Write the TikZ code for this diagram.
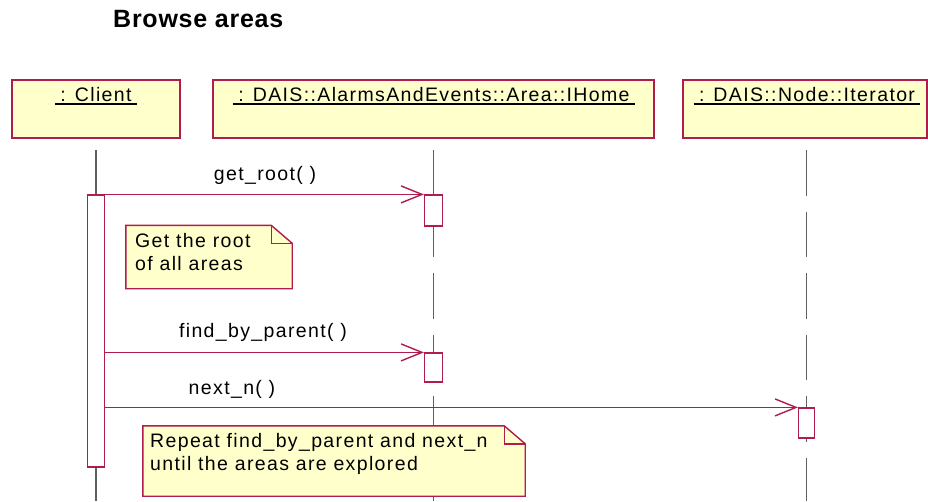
\documentclass[tikz,border=0pt]{standalone}
\usepackage{fontspec}
\setmainfont{Liberation Sans}
\newfontfamily\spcfont[LetterSpace=7]{Liberation Sans}
\newfontfamily\ttlfont[LetterSpace=3]{Liberation Sans}
\usetikzlibrary{arrows.meta}
\definecolor{umlred}{RGB}{176,28,78}
\definecolor{umlfill}{RGB}{255,255,204}
\definecolor{lifegray}{RGB}{95,95,95}
\begin{document}
\begin{tikzpicture}[x=1pt,y=-1pt,
  hdrbox/.style={draw=umlred, fill=umlfill, line width=1.4pt, inner sep=0pt},
  hdrtxt/.style={inner xsep=5pt, inner ysep=0pt, anchor=base, font=\spcfont\fontsize{19.5}{23}\selectfont},
  lifeline/.style={draw=lifegray, line width=1.3pt, dash pattern=on 45.5pt off 16pt},
  actbox/.style={draw=umlred, fill=white, line width=1.2pt, inner sep=0pt},
  msg/.style={draw=umlred, line width=1pt, -{Straight Barb[length=21pt,width=17pt,line width=1.4pt]}},
  msgtxt/.style={inner sep=0pt, anchor=base, font=\spcfont\fontsize{19.5}{23}\selectfont},
  notebox/.style={inner sep=0pt},
  noteline/.style={draw=umlred, line width=1.4pt, line join=miter},
  notetxt/.style={inner sep=0pt, anchor=base west, align=left, font=\spcfont\fontsize{19.5}{23}\selectfont},
]
\useasboundingbox (0,0) rectangle (928,501);

% title
\node[inner sep=0pt, anchor=base west, font=\ttlfont\bfseries\fontsize{25}{30}\selectfont] (title) at (113,27) {Browse areas};

% headers
\node[hdrbox, minimum width=168pt, minimum height=58pt] (client) at (96,109) {};
\node[hdrbox, minimum width=441pt, minimum height=58pt] (ihome) at (433.5,109) {};
\node[hdrbox, minimum width=244pt, minimum height=58pt] (iter) at (805,109) {};
\node[hdrtxt] (clientlbl) at (96,101) {: Client};
\node[hdrtxt] (ihomelbl) at (434,101) {: DAIS::AlarmsAndEvents::Area::IHome};
\node[hdrtxt] (iterlbl) at (807,101) {: DAIS::Node::Iterator};
\foreach \n in {clientlbl,ihomelbl,iterlbl}
  \draw[line width=1.5pt] ([yshift=-3pt]\n.base west) -- ([yshift=-3pt]\n.base east);

% lifeline ends
\coordinate (clientend) at (96,501);
\coordinate (ihomeend) at (433.5,501);
\coordinate (iterend) at (806.5,501);
\coordinate (clienttop) at (96,150);
\coordinate (ihometop) at (433.5,150);
\coordinate (itertop) at (806.5,150);
\draw[lifeline] (clienttop) -- (clientend);
\draw[lifeline] (ihometop) -- (ihomeend);
\draw[lifeline] (itertop) -- (iterend);

% activations
\node[actbox, minimum width=17pt, minimum height=272pt] (cact) at (96,331) {};
\node[actbox, minimum width=18pt, minimum height=31pt] (hact1) at (433.5,210.5) {};
\node[actbox, minimum width=18pt, minimum height=29pt] (hact2) at (433.5,367.5) {};
\node[actbox, minimum width=16pt, minimum height=30pt] (itact) at (806.5,423) {};

% note 1
\node[notebox, minimum width=166pt, minimum height=63pt] (note1) at (209,257) {};
\draw[noteline, fill=umlfill] (note1.north west) -- ([xshift=-21pt]note1.north east) -- ([yshift=-18pt]note1.north east) -- (note1.south east) -- (note1.south west) -- cycle;
\draw[noteline] ([xshift=-21pt]note1.north east) -- ([xshift=-21pt,yshift=-18pt]note1.north east) -- ([yshift=-18pt]note1.north east);
\node[notetxt] (note1txt) at (135,270) {Get the root\\of all areas};

% messages
\draw[msg] (cact.east |- hact1.north west) -- (hact1.north west);
\node[msgtxt] (m1) at (265,180) {get\_root( )};
\draw[msg] (cact.east |- hact2.north west) -- (hact2.north west);
\node[msgtxt] (m2) at (263,337) {find\_by\_parent( )};
\draw[msg] (cact.east |- itact.north west) -- (itact.north west);
\node[msgtxt] (m3) at (232,394) {next\_n( )};

% note 2
\node[notebox, minimum width=382pt, minimum height=70pt] (note2) at (334,461) {};
\draw[noteline, fill=umlfill] (note2.north west) -- ([xshift=-21pt]note2.north east) -- ([yshift=-18pt]note2.north east) -- (note2.south east) -- (note2.south west) -- cycle;
\draw[noteline] ([xshift=-21pt]note2.north east) -- ([xshift=-21pt,yshift=-18pt]note2.north east) -- ([yshift=-18pt]note2.north east);
\node[notetxt] (note2txt) at (150,470) {Repeat find\_by\_parent and next\_n\\until the areas are explored};
\end{tikzpicture}
\end{document}
